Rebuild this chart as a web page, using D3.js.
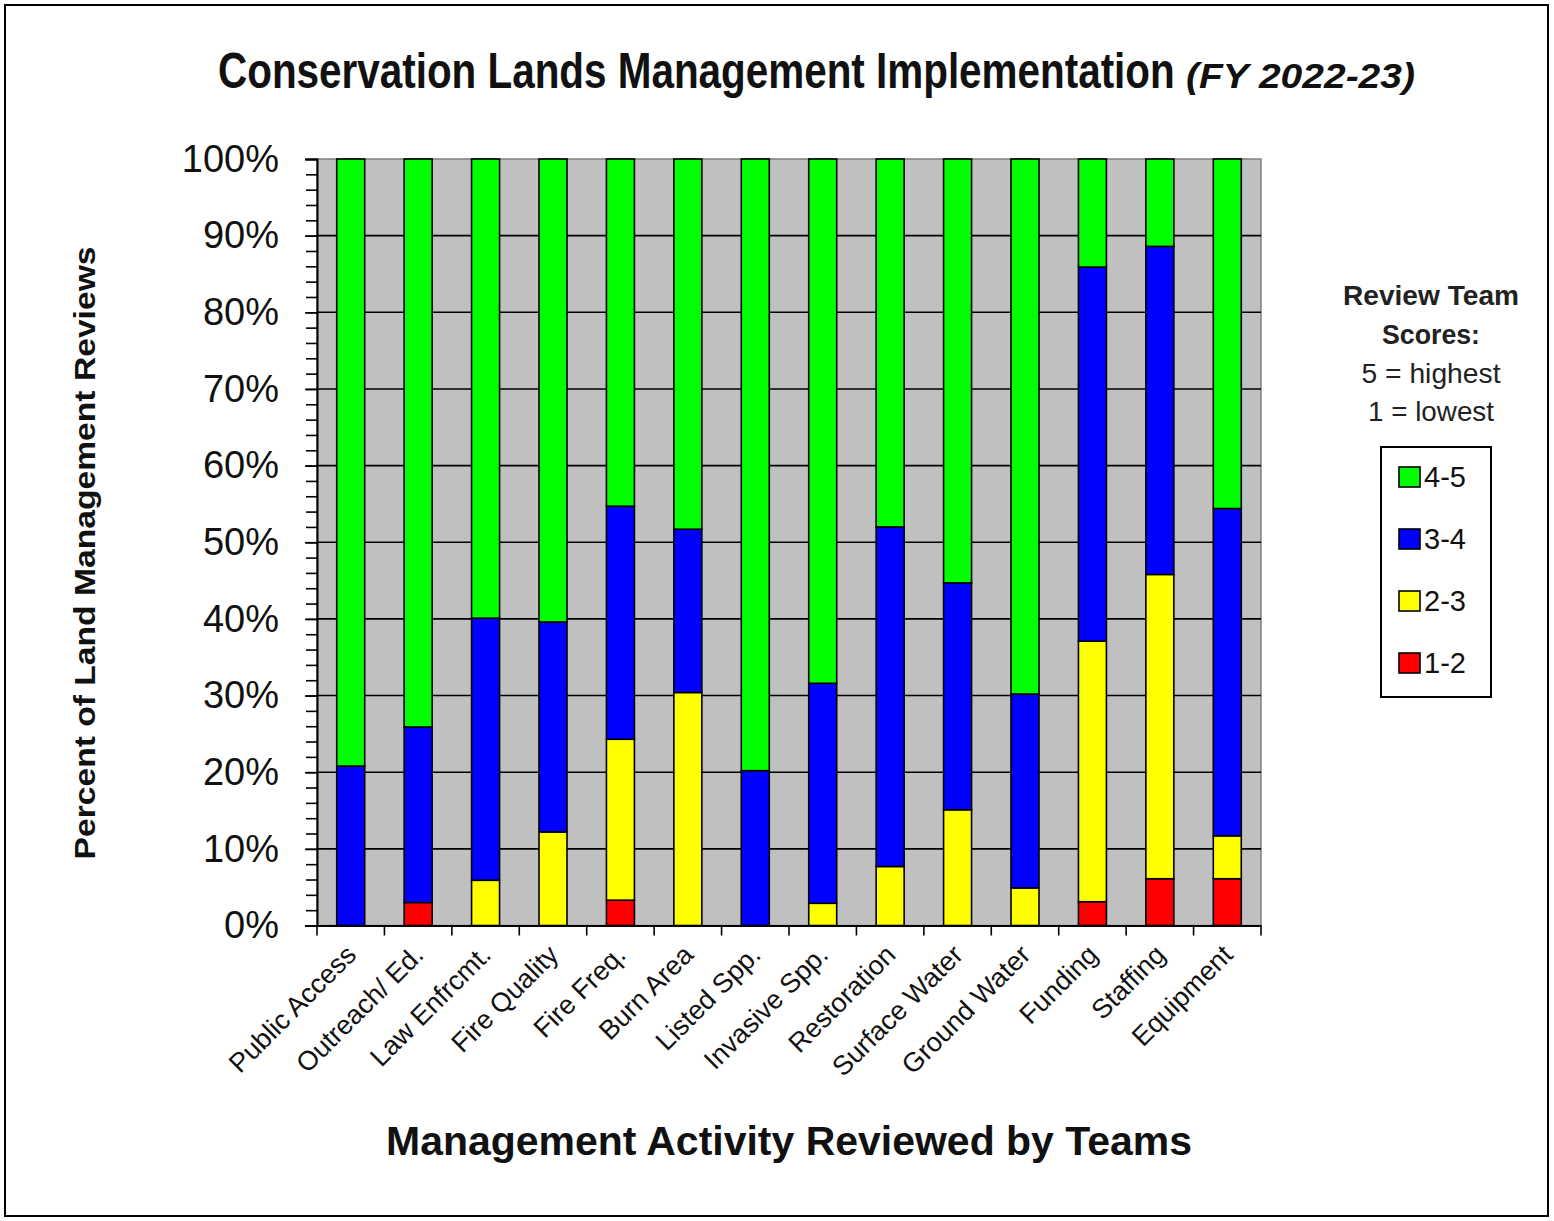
<!DOCTYPE html>
<html>
<head>
<meta charset="utf-8">
<script src="https://cdn.jsdelivr.net/npm/d3@7"></script>
<style>
  html, body { margin: 0; padding: 0; background: #fff; }
  svg { display: block; font-family: "Liberation Sans", Arial, sans-serif; }
</style>
</head>
<body>
<svg id="chart" width="1554" height="1221"></svg>
<script>
// ---- Data ----
const categories = ["Public Access", "Outreach/ Ed.", "Law Enfrcmt.", "Fire Quality", "Fire Freq.",
  "Burn Area", "Listed Spp.", "Invasive Spp.", "Restoration", "Surface Water", "Ground Water",
  "Funding", "Staffing", "Equipment"];
const seriesKeys = ["1-2", "2-3", "3-4", "4-5"];
const score12 = [0, 3.0, 0, 0, 3.3, 0, 0, 0, 0, 0, 0, 3.1, 6.1, 6.1];
const score23 = [0, 0, 5.9, 12.2, 21.0, 30.4, 0, 2.9, 7.7, 15.1, 4.9, 34.0, 39.7, 5.6];
const score34 = [20.8, 22.9, 34.2, 27.4, 30.4, 21.3, 20.2, 28.7, 44.3, 29.6, 25.3, 48.8, 42.8, 42.7];
const score45 = [79.2, 74.1, 59.9, 60.4, 45.3, 48.3, 79.8, 68.4, 48.0, 55.3, 69.8, 14.1, 11.4, 45.6];
const yTickValues = [0, 10, 20, 30, 40, 50, 60, 70, 80, 90, 100];
const legendOrder = ["4-5", "3-4", "2-3", "1-2"];
const colors = { "1-2": "#ff0000", "2-3": "#ffff00", "3-4": "#0000ff", "4-5": "#00ff00" };

const table = categories.map((c, i) => ({
  cat: c, "1-2": score12[i], "2-3": score23[i], "3-4": score34[i], "4-5": score45[i]
}));

// ---- Layout ----
const svg = d3.select("#chart");
const plot = { left: 317, right: 1261, top: 159, bottom: 925.5 };

// outer frame
svg.append("rect").attr("x", 5).attr("y", 5).attr("width", 1543).attr("height", 1211)
  .attr("fill", "#fff").attr("stroke", "#000").attr("stroke-width", 2);

const x = d3.scaleBand().domain(categories).range([plot.left, plot.right])
  .paddingInner(0.585).paddingOuter(0.2925);
const y = d3.scaleLinear().domain([0, 100]).range([plot.bottom, plot.top]);

// plot background
svg.append("rect").attr("x", plot.left).attr("y", plot.top)
  .attr("width", plot.right - plot.left).attr("height", plot.bottom - plot.top)
  .attr("fill", "#c0c0c0").attr("stroke", "#808080").attr("stroke-width", 1.5);

// gridlines
svg.append("g").selectAll("line").data(yTickValues.filter(v => v > 0 && v < 100)).join("line")
  .attr("x1", plot.left).attr("x2", plot.right)
  .attr("y1", d => y(d)).attr("y2", d => y(d))
  .attr("stroke", "#000").attr("stroke-width", 1.6);

// bars
const stacked = d3.stack().keys(seriesKeys)(table);
svg.append("g").selectAll("g").data(stacked).join("g")
  .attr("fill", d => colors[d.key])
  .selectAll("rect").data(d => d.filter(s => s[1] - s[0] > 0)).join("rect")
  .attr("x", d => x(d.data.cat))
  .attr("width", x.bandwidth())
  .attr("y", d => y(d[1]))
  .attr("height", d => y(d[0]) - y(d[1]))
  .attr("stroke", "#000").attr("stroke-width", 1.6);

// y axis (minor ticks)
const minorAxis = d3.axisLeft(y).tickValues(d3.range(0, 101, 2)).tickSize(11).tickFormat("");
const gMinor = svg.append("g").attr("transform", `translate(${plot.left},0)`).call(minorAxis);
gMinor.select(".domain").remove();
gMinor.selectAll("line").attr("stroke", "#000").attr("stroke-width", 1.6);

// y axis major
const yAxis = d3.axisLeft(y).tickValues(yTickValues).tickFormat(d => d + "%").tickSize(12).tickPadding(26);
const gy = svg.append("g").attr("transform", `translate(${plot.left},0)`).call(yAxis);
gy.select(".domain").attr("stroke", "#000").attr("stroke-width", 2);
gy.selectAll("line").attr("stroke", "#000").attr("stroke-width", 1.6);
gy.selectAll("text").attr("font-size", 38).attr("fill", "#111")
  .attr("font-family", "'Liberation Sans', Arial, sans-serif");

// x axis
const xAxis = d3.axisBottom(x).tickSize(0).tickFormat("");
const gx = svg.append("g").attr("transform", `translate(0,${plot.bottom})`).call(xAxis);
gx.select(".domain").attr("stroke", "#000").attr("stroke-width", 2);
gx.selectAll(".tick").remove();
const boundaries = categories.map(c => x(c) - x.step() * x.paddingInner() / 2).concat([plot.right]);
gx.selectAll("line.bt").data(boundaries).join("line").attr("class", "bt")
  .attr("x1", d => d).attr("x2", d => d).attr("y1", 0).attr("y2", 10)
  .attr("stroke", "#000").attr("stroke-width", 1.6);
gx.selectAll("text.lbl").data(categories).join("text").attr("class", "lbl")
  .attr("transform", d => `translate(${x(d) + x.bandwidth() / 2 + 7},${31}) rotate(-45)`)
  .attr("text-anchor", "end")
  .attr("font-size", 27).attr("fill", "#111")
  .text(d => d);

// title: main part condensed, italic part separately scaled
const titleMain = svg.append("text").attr("font-weight", "bold").attr("fill", "#111")
  .attr("font-size", 50).text("Conservation Lands Management Implementation");
const mainLen = titleMain.node().getComputedTextLength();
titleMain.attr("transform", `translate(218,88) scale(${957 / mainLen},1)`);
const titleIt = svg.append("text").attr("font-weight", "bold").attr("font-style", "italic")
  .attr("fill", "#111").attr("font-size", 36).text("(FY 2022-23)");
const itLen = titleIt.node().getComputedTextLength();
titleIt.attr("transform", `translate(1186,88) scale(${229 / itLen},1)`);

// axis titles
svg.append("text").attr("transform", `translate(95,553) rotate(-90)`)
  .attr("text-anchor", "middle").attr("font-size", 30).attr("font-weight", "bold").attr("fill", "#111")
  .attr("textLength", 613).attr("lengthAdjust", "spacingAndGlyphs")
  .text("Percent of Land Management Reviews");
svg.append("text").attr("x", 789).attr("y", 1155)
  .attr("text-anchor", "middle").attr("font-size", 40).attr("font-weight", "bold").attr("fill", "#111")
  .attr("textLength", 806).attr("lengthAdjust", "spacingAndGlyphs")
  .text("Management Activity Reviewed by Teams");

// legend heading
const lg = svg.append("g");
const headLines = [
  { t: "Review Team", bold: true, y: 305 },
  { t: "Scores:", bold: true, y: 344 },
  { t: "5 = highest", bold: false, y: 383 },
  { t: "1 = lowest", bold: false, y: 421 }
];
lg.selectAll("text.h").data(headLines).join("text").attr("class", "h")
  .attr("x", 1431).attr("y", d => d.y).attr("text-anchor", "middle")
  .attr("font-size", 28).attr("font-weight", d => d.bold ? "bold" : "normal").attr("fill", "#222")
  .attr("textLength", d => d.bold ? (d.t === "Scores:" ? 98 : 176) : (d.t.startsWith("5") ? 139 : 126))
  .attr("lengthAdjust", "spacingAndGlyphs")
  .text(d => d.t);

// legend box
lg.append("rect").attr("x", 1381).attr("y", 447).attr("width", 110).attr("height", 250)
  .attr("fill", "#fff").attr("stroke", "#000").attr("stroke-width", 2);
const ly = d3.scalePoint().domain(legendOrder).range([477, 663]);
const items = lg.selectAll("g.item").data(legendOrder).join("g").attr("class", "item")
  .attr("transform", d => `translate(1399,${ly(d)})`);
items.append("rect").attr("x", 0).attr("y", -10).attr("width", 21).attr("height", 20)
  .attr("fill", d => colors[d]).attr("stroke", "#000").attr("stroke-width", 1.6);
items.append("text").attr("x", 25).attr("y", 10).attr("font-size", 29).attr("fill", "#111")
  .text(d => d);
</script>
</body>
</html>
